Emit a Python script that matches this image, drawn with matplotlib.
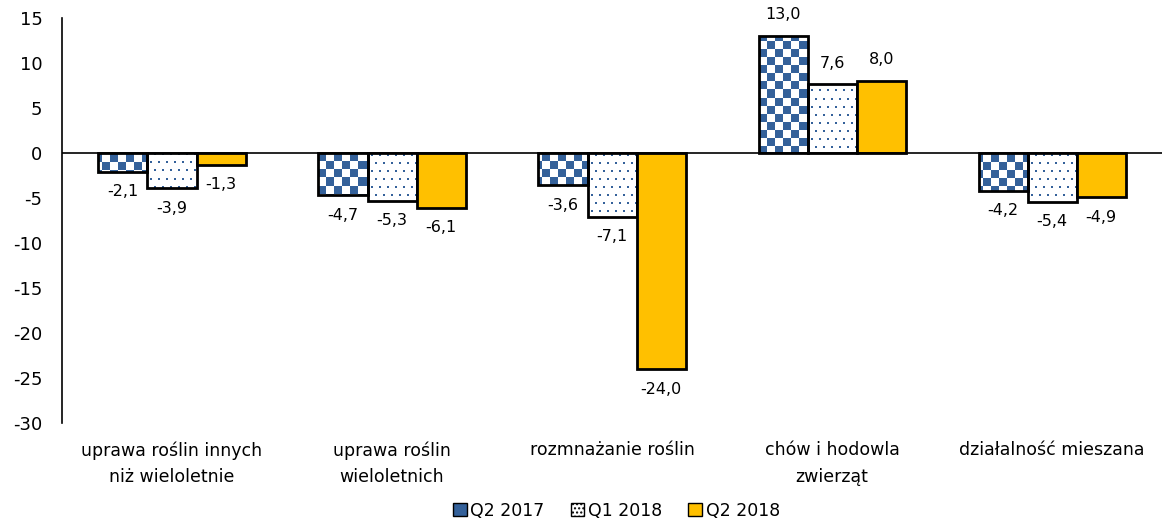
import numpy as np
import matplotlib.pyplot as plt
from matplotlib.patches import Patch

# Données
categories = ["uprawa roślin innych\nniż wieloletnie", "uprawa roślin\nwieloletnich",
              "rozmnażanie roślin", "chów i hodowla\nzwierząt", "działalność mieszana"]
q2_2017 = [-2.1, -4.7, -3.6, 13.0, -4.2]
q1_2018 = [-3.9, -5.3, -7.1, 7.6, -5.4]
q2_2018 = [-1.3, -6.1, -24.0, 8.0, -4.9]
series_names = ["Q2 2017", "Q1 2018", "Q2 2018"]

blue = np.array([0x34, 0x61, 0x9A]) / 255
gold = "#FFC000"

plt.rcParams['font.family'] = ['DejaVu Sans']
plt.rcParams['axes.unicode_minus'] = False
plt.rcParams['hatch.linewidth'] = 1.0

fig = plt.figure(figsize=(11.63, 5.25), dpi=100)
ax = fig.add_axes([0.0533, 0.194, 0.946, 0.772])

x = np.arange(len(categories))
w = 0.223

# motifs en pixels (taille de l'axe ~1100 x 405)
W, H = 1100, 405
yy, xx = np.mgrid[0:H, 0:W]
checker = ((yy // 8 + xx // 8) % 2).astype(bool)
dots = ((yy % 8) < 2) & (((xx + 4 * ((yy // 8) % 2)) % 8) < 2)


def pattern_image(mask):
    img = np.ones((H, W, 3))
    img[mask] = blue
    return img


def patterned_bars(pos, vals, mask):
    bars = ax.bar(pos, vals, w, facecolor="white", edgecolor="none", zorder=2)
    img = pattern_image(mask)
    for b in bars:
        im = ax.imshow(img, extent=[0, 1, 0, 1], transform=ax.transAxes,
                       aspect="auto", interpolation="nearest", zorder=2)
        im.set_clip_path(b)
    ax.bar(pos, vals, w, facecolor="none", edgecolor="black", linewidth=2, zorder=3)


patterned_bars(x - w, q2_2017, checker)
patterned_bars(x, q1_2018, dots)
ax.bar(x + w, q2_2018, w, facecolor=gold, edgecolor="black", linewidth=2, zorder=3)

# étiquettes de valeurs
for off, vals in zip([-w, 0, w], [q2_2017, q1_2018, q2_2018]):
    for xi, v in zip(x, vals):
        lab = f"{v:.1f}".replace(".", ",")
        if v >= 0:
            ax.annotate(lab, (xi + off, v), xytext=(0, 10), textcoords="offset points",
                        ha="center", va="bottom", fontsize=11.5)
        else:
            ax.annotate(lab, (xi + off, v), xytext=(0, -9), textcoords="offset points",
                        ha="center", va="top", fontsize=11.5)

ax.axhline(0, color="black", linewidth=1.2, zorder=4)
ax.set_xlim(-0.5, 4.5)
ax.set_ylim(-30, 15)
ax.set_yticks(np.arange(-30, 16, 5))
ax.tick_params(axis="y", length=0, labelsize=13, pad=14)
ax.set_xticks([])
for s in ["top", "right", "bottom"]:
    ax.spines[s].set_visible(False)
ax.spines["left"].set_linewidth(1.2)

for xi, c in zip(x, categories):
    ax.text(xi, -32.0, c, ha="center", va="top", fontsize=12.5, linespacing=1.6)

handles = [Patch(facecolor=blue, edgecolor="black"),
           Patch(facecolor="white", edgecolor="black", hatch="...."),
           Patch(facecolor=gold, edgecolor="black")]
fig.legend(handles, series_names, loc="lower center", bbox_to_anchor=(0.53, -0.02),
           ncol=3, frameon=False, fontsize=12.5, handlelength=0.8, handleheight=0.8,
           handletextpad=0.2, columnspacing=1.5)

fig.savefig("out.png", dpi=100)
